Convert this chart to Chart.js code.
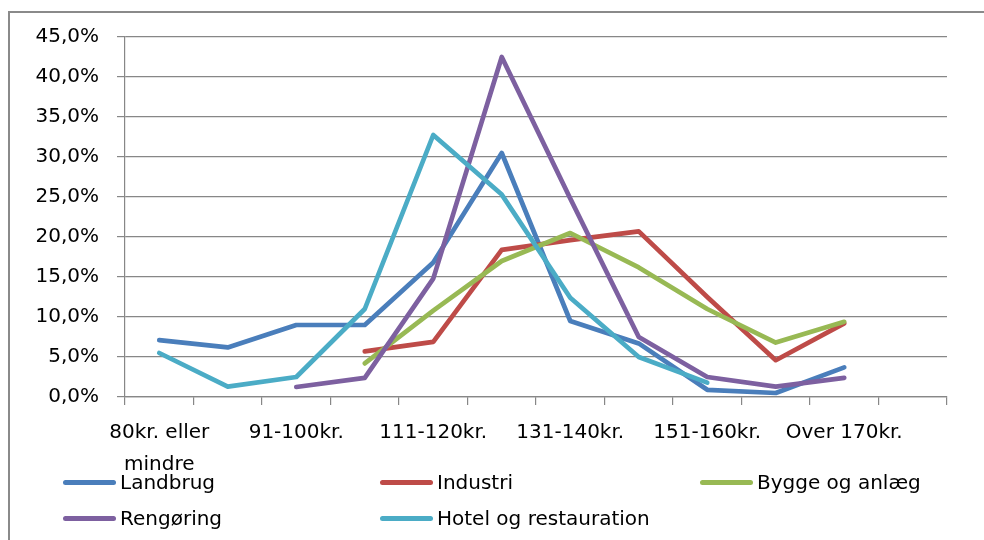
<!DOCTYPE html>
<html>
<head>
<meta charset="utf-8">
<script src="https://cdn.jsdelivr.net/npm/chart.js@4.4.1/dist/chart.umd.min.js"></script>
<style>
  html, body { margin: 0; padding: 0; background: #fff; }
  body { width: 984px; height: 540px; overflow: hidden; position: relative; font-family: "DejaVu Sans", sans-serif; }
  #frame { position: absolute; left: 8px; top: 11px; width: 1000px; height: 600px; border: 2px solid #8a8a8a; box-sizing: border-box; }
  #wrap { position: absolute; left: 0; top: 0; width: 984px; height: 540px; }
  #legend { position: absolute; left: 0; top: 0; width: 984px; height: 540px; pointer-events: none; }
  .item { position: absolute; height: 24px; display: flex; align-items: center; font-size: 20px; color: #000; white-space: nowrap; }
  .swatch { width: 53px; height: 5px; border-radius: 3px; margin-right: 4px; }
</style>
</head>
<body>
<div id="frame"></div>
<div id="wrap"><canvas id="c" width="984" height="540"></canvas></div>
<div id="legend"></div>
<script>
// Hourly wage bands
const categories = [
  ["80kr. eller", "mindre"], "81-90kr.", "91-100kr.", "101-110kr.", "111-120kr.",
  "121-130kr.", "131-140kr.", "141-150kr.", "151-160kr.", "161-170kr.", "Over 170kr.", ""
];

// Share of employees per band, in percent
const landbrug   = [7.1, 6.2, 9.0, 9.0, 16.8, 30.5, 9.5, 6.7, 0.9, 0.5, 3.7, null];
const industri   = [null, null, null, 5.7, 6.9, 18.4, 19.6, 20.7, 12.5, 4.6, 9.2, null];
const bygge      = [null, null, null, 4.2, 10.8, 17.0, 20.5, 16.2, 11.0, 6.8, 9.4, null];
const rengoering = [null, null, 1.25, 2.4, 14.8, 42.5, 24.8, 7.5, 2.5, 1.3, 2.4, null];
const hotel      = [5.5, 1.3, 2.5, 11.0, 32.75, 25.3, 12.4, 5.0, 1.8, null, null, null];

const yTicks = [0, 5, 10, 15, 20, 25, 30, 35, 40, 45];

const seriesNames = ["Landbrug", "Industri", "Bygge og anlæg", "Rengøring", "Hotel og restauration"];
const seriesData = [landbrug, industri, bygge, rengoering, hotel];
const seriesColors = ["#4A7EBB", "#BE4B48", "#98B954", "#7D60A0", "#4BACC6"];

const gridColor = "#878787";
const fontFamily = "'DejaVu Sans', sans-serif";

const datasets = seriesNames.map((name, i) => ({
  label: name,
  data: seriesData[i],
  borderColor: seriesColors[i],
  backgroundColor: seriesColors[i],
  borderWidth: 4.7,
  borderCapStyle: "round",
  borderJoinStyle: "round",
  pointRadius: 0,
  pointHoverRadius: 0,
  tension: 0,
  spanGaps: false,
  fill: false,
  // later series are painted above earlier ones
  order: seriesNames.length - i
}));

new Chart(document.getElementById("c"), {
  type: "line",
  data: { labels: categories, datasets },
  options: {
    responsive: false,
    animation: false,
    devicePixelRatio: 1,
    layout: { padding: { top: 37, right: 37, bottom: 0, left: 0 } },
    plugins: { legend: { display: false }, tooltip: { enabled: false } },
    scales: {
      x: {
        type: "category",
        offset: true,
        grid: {
          offset: true,
          drawOnChartArea: false,
          drawTicks: true,
          tickLength: 8,
          color: gridColor,
          lineWidth: 1.2
        },
        border: { display: true, color: gridColor, width: 1.2 },
        ticks: {
          autoSkip: false,
          maxRotation: 0,
          minRotation: 0,
          padding: 12,
          color: "#000",
          font: { family: fontFamily, size: 20, lineHeight: 1.6 },
          callback: function (value, index) {
            return index % 2 === 0 ? this.getLabelForValue(value) : "";
          }
        },
        afterFit: (scale) => { scale.height = 143; }
      },
      y: {
        min: 0,
        max: 45,
        afterBuildTicks: (scale) => { scale.ticks = yTicks.map(v => ({ value: v })); },
        grid: {
          drawTicks: true,
          tickLength: 8,
          color: gridColor,
          lineWidth: 1.2
        },
        border: { display: true, color: gridColor, width: 1.2 },
        ticks: {
          padding: 18,
          color: "#000",
          font: { family: fontFamily, size: 20 },
          callback: (v) => v.toFixed(1).replace(".", ",") + "%"
        },
        afterFit: (scale) => { scale.width = 125; }
      }
    }
  }
});

// Legend: three columns, two rows
const legendCols = [63, 380, 700];
const legendRows = [482, 518];
const legend = document.getElementById("legend");
seriesNames.forEach((name, i) => {
  const el = document.createElement("div");
  el.className = "item";
  el.style.left = legendCols[i % 3] + "px";
  el.style.top = (legendRows[Math.floor(i / 3)] - 12) + "px";
  const sw = document.createElement("span");
  sw.className = "swatch";
  sw.style.background = seriesColors[i];
  const tx = document.createElement("span");
  tx.textContent = name;
  el.appendChild(sw);
  el.appendChild(tx);
  legend.appendChild(el);
});
</script>
</body>
</html>
